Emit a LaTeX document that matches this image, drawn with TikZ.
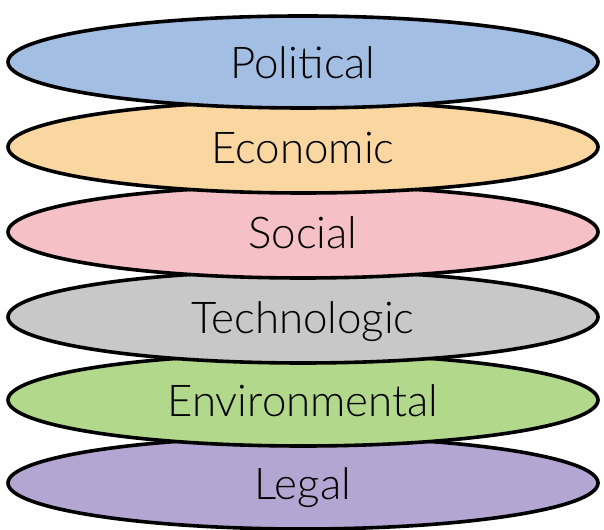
\documentclass[tikz,border=0pt]{standalone}
\usepackage{fontspec}
\setmainfont{Lato Light}
\usetikzlibrary{shapes.geometric}

\definecolor{polblue}{RGB}{163,190,227}
\definecolor{ecoorange}{RGB}{250,215,160}
\definecolor{socpink}{RGB}{245,192,198}
\definecolor{tecgray}{RGB}{200,200,200}
\definecolor{envgreen}{RGB}{178,217,139}
\definecolor{legpurple}{RGB}{179,166,210}

\tikzset{
  layer/.style={ellipse, draw=black, line width=3.6bp, minimum width=590bp,
    minimum height=92bp, inner sep=0pt, text height=33bp, text depth=0pt,
    font=\fontsize{44}{44}\selectfont}
}

\begin{document}
\begin{tikzpicture}[x=1bp,y=1bp]
	\useasboundingbox (0,0) rectangle (604,530);
	% layers, drawn from the bottom so each one lies over the next
	\foreach \name/\col/\txt/\yy in {legal/legpurple/Legal/47,
			environmental/envgreen/Environmental/130,
			technologic/tecgray/Technologic/213,
			social/socpink/Social/298,
			economic/ecoorange/Economic/383,
			political/polblue/Political/468}{
			\node[layer, fill=\col] (\name) at (303,\yy) {\txt};
		}
\end{tikzpicture}
\end{document}
